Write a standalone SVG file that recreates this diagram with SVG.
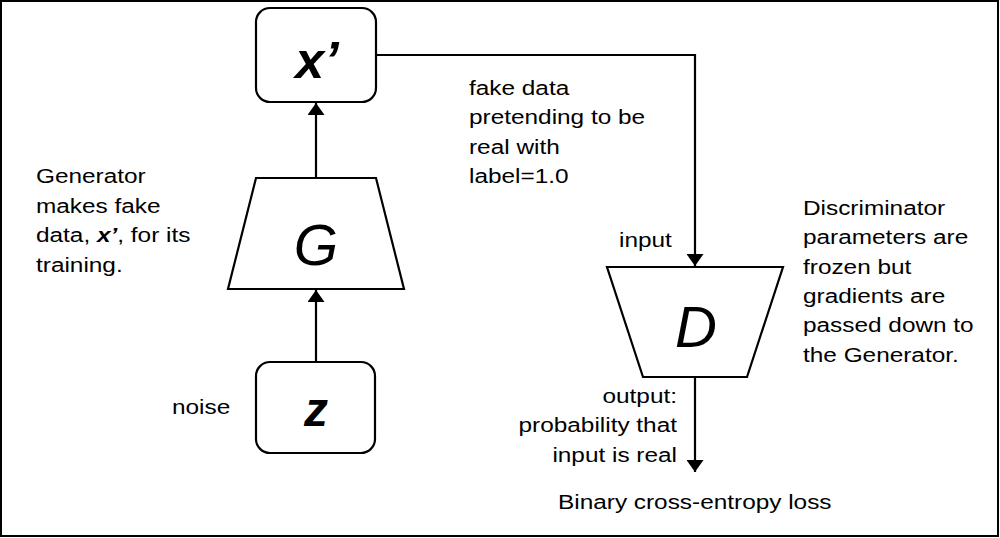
<svg xmlns="http://www.w3.org/2000/svg" width="1000" height="538" viewBox="0 0 1000 538">
<style>
.lbl{font-family:"Liberation Sans",Arial,sans-serif;font-size:19.5px;fill:#000}
.shape{fill:#fff;stroke:#000;stroke-width:2.2}
.conn{fill:none;stroke:#000;stroke-width:2.2}
.big{font-family:"Liberation Sans",Arial,sans-serif;fill:#000;text-anchor:middle}
</style>
<defs>
<marker id="arr" viewBox="0 0 12 17" refX="12" refY="8.5" markerWidth="12" markerHeight="17" markerUnits="userSpaceOnUse" orient="auto">
<path d="M0,0 L12,8.5 L0,17 Z" fill="#000"/>
</marker>
</defs>
<rect x="0" y="0" width="1000" height="538" fill="#fff"/>
<rect x="1" y="1" width="997" height="535" fill="none" stroke="#000" stroke-width="2"/>

<g id="connectors">
<line class="conn" x1="316" y1="178" x2="316" y2="103" marker-end="url(#arr)"/>
<line class="conn" x1="316" y1="362" x2="316" y2="290" marker-end="url(#arr)"/>
<polyline class="conn" points="376,55 695,55 695,266" marker-end="url(#arr)"/>
<line class="conn" x1="695" y1="377" x2="695" y2="472" marker-end="url(#arr)"/>
</g>

<g id="node-xprime">
<rect class="shape" x="256" y="8" width="120" height="94" rx="14"/>
<text class="big" x="317" y="78" font-size="52" font-weight="bold" font-style="italic">x’</text>
</g>

<g id="node-G">
<polygon class="shape" points="256,178 376,178 404,289 228,289"/>
<text class="big" x="316" y="265" font-size="57" font-style="italic">G</text>
</g>

<g id="node-z">
<rect class="shape" x="256" y="362" width="119" height="91" rx="14"/>
<text class="big" x="316" y="426" font-size="48" font-weight="bold" font-style="italic">z</text>
</g>

<g id="node-D">
<polygon class="shape" points="607,267 783,267 747,377 643,377"/>
<text class="big" x="696" y="347" font-size="58" font-style="italic">D</text>
</g>

<g id="label-generator" transform="translate(36,183) scale(1.25,1)">
<text class="lbl"><tspan x="0" y="0">Generator</tspan><tspan x="0" y="29.7">makes fake</tspan><tspan x="0" y="59.4">data, <tspan font-weight="bold" font-style="italic">x’</tspan>, for its</tspan><tspan x="0" y="89">training.</tspan></text>
</g>

<g id="label-fake" transform="translate(469,95) scale(1.25,1)">
<text class="lbl"><tspan x="0" y="0">fake data</tspan><tspan x="0" y="29.5">pretending to be</tspan><tspan x="0" y="59">real with</tspan><tspan x="0" y="88">label=1.0</tspan></text>
</g>

<g id="label-disc" transform="translate(803,215) scale(1.25,1)">
<text class="lbl"><tspan x="0" y="0">Discriminator</tspan><tspan x="0" y="29.4">parameters are</tspan><tspan x="0" y="58.8">frozen but</tspan><tspan x="0" y="88">gradients are</tspan><tspan x="0" y="117.4">passed down to</tspan><tspan x="0" y="147">the Generator.</tspan></text>
</g>

<g id="label-input" transform="translate(619,247) scale(1.25,1)">
<text class="lbl" x="0" y="0">input</text>
</g>

<g id="label-noise" transform="translate(172,414) scale(1.25,1)">
<text class="lbl" x="0" y="0">noise</text>
</g>

<g id="label-output" transform="translate(677,403) scale(1.25,1)">
<text class="lbl" text-anchor="end"><tspan x="0" y="0">output:</tspan><tspan x="0" y="29.5">probability that</tspan><tspan x="0" y="59">input is real</tspan></text>
</g>

<g id="label-loss" transform="translate(558,509) scale(1.25,1)">
<text class="lbl" x="0" y="0">Binary cross-entropy loss</text>
</g>
</svg>
